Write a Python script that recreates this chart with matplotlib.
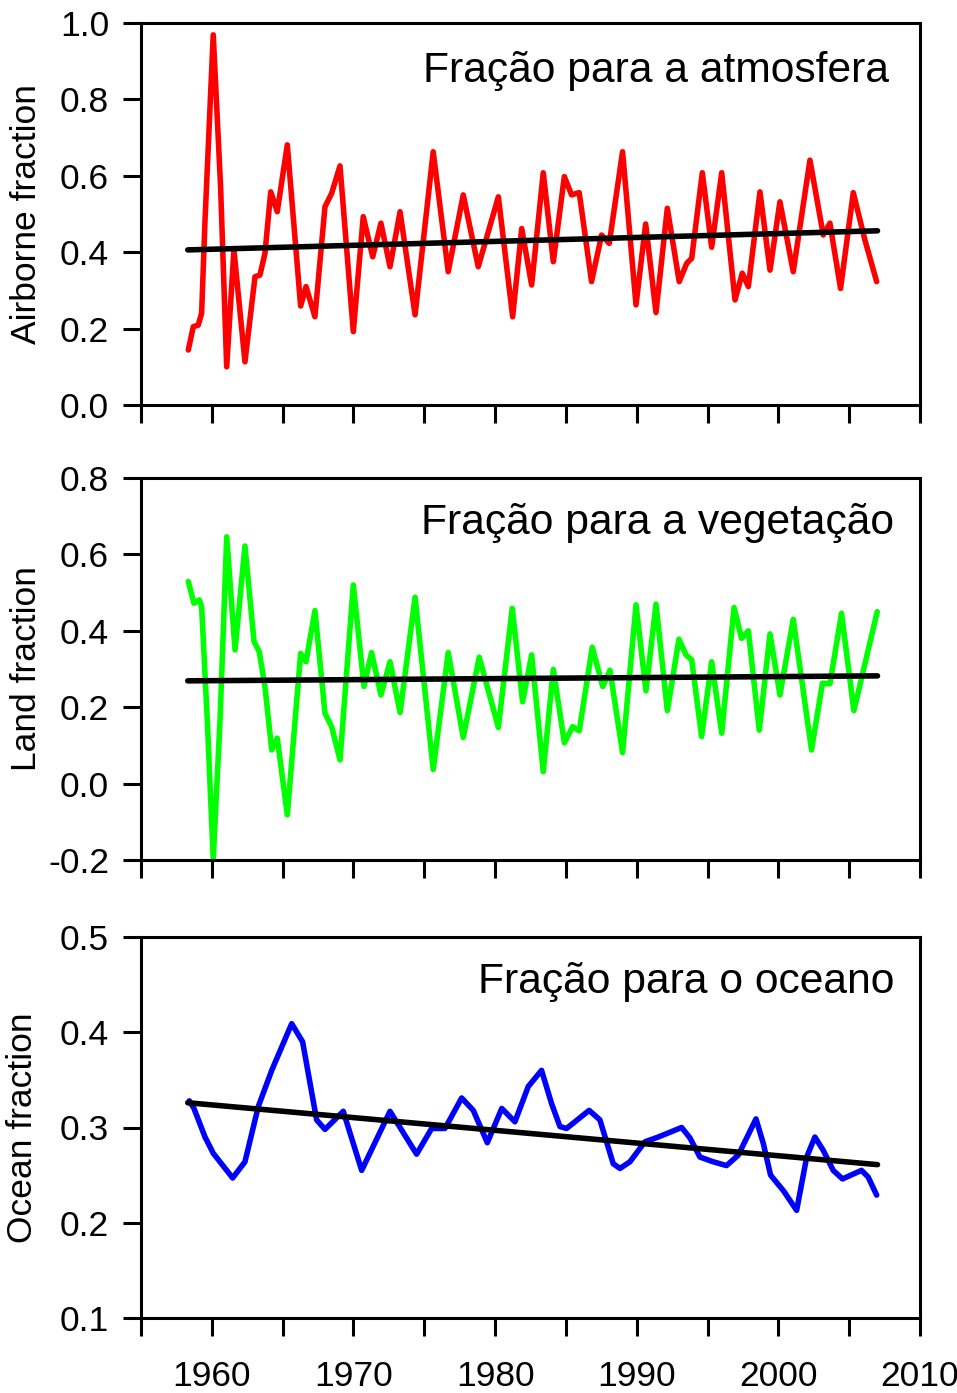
import matplotlib
matplotlib.use("Agg")
import matplotlib.pyplot as plt
from matplotlib.ticker import MultipleLocator, FormatStrFormatter

plt.rcParams['font.family'] = ['Liberation Sans', 'DejaVu Sans']
plt.rcParams['axes.unicode_minus'] = False

# Airborne fraction (red)
air_years = [1958.34, 1958.69, 1959.04, 1959.28, 1959.52, 1960.10, 1960.62, 1961.05, 1961.56, 1962.34,
             1963.05, 1963.40, 1963.75, 1964.16, 1964.62, 1965.33, 1966.27, 1966.65, 1967.28, 1967.99,
             1968.46, 1969.05, 1969.99, 1970.69, 1971.36, 1971.94, 1972.58, 1973.29, 1974.35, 1975.63,
             1976.69, 1977.75, 1978.81, 1980.23, 1981.24, 1981.88, 1982.58, 1983.40, 1984.11, 1984.89,
             1985.40, 1985.94, 1986.81, 1987.52, 1988.06, 1989.00, 1989.95, 1990.63, 1991.36, 1992.16,
             1993.00, 1993.53, 1993.88, 1994.63, 1995.29, 1996.00, 1996.94, 1997.45, 1997.88, 1998.70,
             1999.41, 2000.11, 2001.05, 2002.23, 2003.17, 2003.64, 2004.39, 2005.29, 2006.11, 2006.94]
air_frac = [0.144, 0.205, 0.209, 0.240, 0.484, 0.969, 0.571, 0.100, 0.406, 0.113,
            0.336, 0.340, 0.397, 0.558, 0.506, 0.681, 0.259, 0.310, 0.231, 0.519,
            0.554, 0.626, 0.192, 0.493, 0.388, 0.476, 0.362, 0.506, 0.236, 0.663,
            0.349, 0.550, 0.362, 0.545, 0.231, 0.462, 0.314, 0.608, 0.375, 0.598,
            0.550, 0.556, 0.323, 0.445, 0.423, 0.663, 0.262, 0.474, 0.242, 0.515,
            0.323, 0.371, 0.384, 0.608, 0.413, 0.608, 0.275, 0.345, 0.310, 0.558,
            0.353, 0.532, 0.349, 0.641, 0.445, 0.476, 0.305, 0.556, 0.432, 0.323]

# Land fraction (green)
land_years = [1958.34, 1958.74, 1959.12, 1959.28, 1959.68, 1960.10, 1960.58, 1961.05, 1961.64, 1962.34,
              1962.98, 1963.35, 1963.75, 1964.23, 1964.62, 1965.33, 1966.27, 1966.65, 1967.28, 1967.99,
              1968.46, 1969.05, 1969.99, 1970.74, 1971.28, 1971.94, 1972.58, 1973.29, 1974.35, 1975.63,
              1976.69, 1977.75, 1978.88, 1980.23, 1981.21, 1981.94, 1982.58, 1983.40, 1984.11, 1984.89,
              1985.48, 1985.94, 1986.86, 1987.60, 1988.11, 1989.00, 1989.95, 1990.65, 1991.36, 1992.16,
              1992.98, 1993.48, 1993.88, 1994.58, 1995.29, 1996.00, 1996.87, 1997.40, 1997.88, 1998.65,
              1999.41, 2000.11, 2001.05, 2002.34, 2003.11, 2003.64, 2004.46, 2005.33, 2006.98]
land_frac = [0.529, 0.472, 0.481, 0.463, 0.166, -0.198, 0.166, 0.646, 0.350, 0.622,
             0.372, 0.345, 0.254, 0.088, 0.119, -0.082, 0.341, 0.319, 0.453, 0.184,
             0.149, 0.062, 0.520, 0.254, 0.343, 0.232, 0.319, 0.186, 0.488, 0.037,
             0.343, 0.121, 0.331, 0.147, 0.459, 0.214, 0.337, 0.031, 0.299, 0.107,
             0.149, 0.138, 0.357, 0.254, 0.297, 0.081, 0.468, 0.243, 0.470, 0.191,
             0.378, 0.337, 0.324, 0.123, 0.319, 0.132, 0.461, 0.380, 0.400, 0.140,
             0.392, 0.232, 0.430, 0.088, 0.263, 0.261, 0.446, 0.191, 0.450]

# Ocean fraction (blue)
ocean_years = [1958.41, 1958.74, 1959.52, 1960.10, 1961.47, 1962.34, 1963.28, 1964.23, 1965.64, 1966.41,
               1967.40, 1967.99, 1969.28, 1970.58, 1972.58, 1974.46, 1975.52, 1976.46, 1977.64, 1978.46,
               1979.45, 1980.47, 1981.40, 1982.34, 1983.28, 1983.99, 1984.58, 1985.05, 1986.64, 1987.40,
               1988.34, 1988.82, 1989.52, 1990.58, 1991.52, 1993.17, 1993.76, 1994.46, 1995.40, 1996.34,
               1997.17, 1998.42, 1998.94, 1999.45, 2000.39, 2001.29, 2002.00, 2002.58, 2003.17, 2003.87,
               2004.53, 2005.87, 2006.34, 2006.94]
ocean_frac = [0.328, 0.320, 0.290, 0.273, 0.247, 0.264, 0.322, 0.360, 0.409, 0.390,
              0.308, 0.298, 0.317, 0.255, 0.317, 0.272, 0.299, 0.299, 0.331, 0.318,
              0.284, 0.320, 0.306, 0.343, 0.360, 0.325, 0.301, 0.299, 0.318, 0.308,
              0.262, 0.257, 0.264, 0.285, 0.290, 0.300, 0.289, 0.269, 0.264, 0.260,
              0.271, 0.309, 0.283, 0.250, 0.233, 0.213, 0.269, 0.290, 0.276, 0.255,
              0.246, 0.255, 0.248, 0.229]

# linear trends (endpoints)
trend_years = [1958.3, 2007.0]
air_trend = [0.406, 0.456]
land_trend = [0.269, 0.282]
ocean_trend = [0.326, 0.261]

panels = [
    (air_years, air_frac, air_trend, '#ff0000', "Airborne fraction", "Fração para a atmosfera", (0.0, 1.0), 0.2),
    (land_years, land_frac, land_trend, '#00ff00', "Land fraction", "Fração para a vegetação", (-0.2, 0.8), 0.2),
    (ocean_years, ocean_frac, ocean_trend, '#0000ff', "Ocean fraction", "Fração para o oceano", (0.1, 0.5), 0.1),
]

fig = plt.figure(figsize=(9.57, 13.93), dpi=100)
left, width = 141 / 957, 779 / 957
tops = [23, 478, 937]
bottoms = [405, 860, 1318]
text_pos = [(0.9606, 0.846), (0.9666, 0.853), (0.9666, 0.854)]
label_x = [-0.126, -0.126, -0.131]

for i, (xs, ys, tr, color, ylabel, title, ylim, step) in enumerate(panels):
    b = 1 - bottoms[i] / 1393
    h = (bottoms[i] - tops[i]) / 1393
    ax = fig.add_axes([left, b, width, h])
    ax.plot(xs, ys, color=color, linewidth=4, solid_joinstyle='round', solid_capstyle='round', zorder=2)
    ax.plot(trend_years, tr, color='black', linewidth=4, solid_capstyle='round', zorder=3)
    ax.set_xlim(1955, 2010)
    ax.set_ylim(*ylim)
    ax.xaxis.set_major_locator(MultipleLocator(10))
    ax.xaxis.set_minor_locator(MultipleLocator(5))
    ax.yaxis.set_major_locator(MultipleLocator(step))
    ax.yaxis.set_major_formatter(FormatStrFormatter("%.1f"))
    ax.tick_params(axis='x', which='both', direction='out', length=13, width=2.2,
                   labelsize=25.5, pad=17, top=False)
    ax.tick_params(axis='y', direction='out', length=13, width=2.2, labelsize=25.5, pad=10, right=False)
    if i < 2:
        ax.tick_params(axis='x', which='both', labelbottom=False)
    for s in ax.spines.values():
        s.set_linewidth(2.2)
    ax.set_ylabel(ylabel, fontsize=25.5)
    ax.yaxis.set_label_coords(label_x[i], 0.5)
    ax.text(text_pos[i][0], text_pos[i][1], title, transform=ax.transAxes,
            ha='right', va='baseline', fontsize=30.7)

plt.savefig("out.png", dpi=100)
